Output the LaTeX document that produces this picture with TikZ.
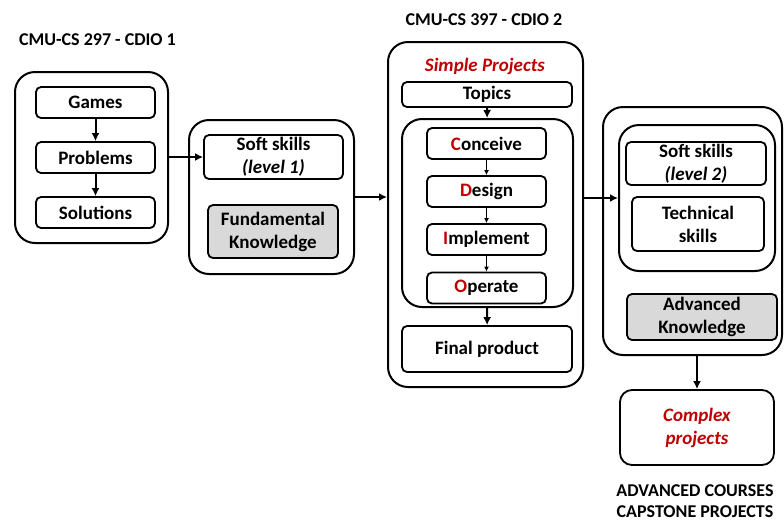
\documentclass[tikz,border=0pt]{standalone}
\usepackage{fontspec}
\setmainfont{Carlito}
\usetikzlibrary{arrows.meta,calc,positioning}
\usepackage{xcolor}
\definecolor{cdiored}{HTML}{C00000}
\definecolor{knowgrey}{HTML}{D9D9D9}

\begin{document}
\begin{tikzpicture}[
    x=1pt, y=-1pt,
    font=\fontsize{19}{23}\selectfont\bfseries,
    group/.style={draw=black, line width=2pt, rounded corners=20pt, inner sep=0pt},
    item/.style={draw=black, line width=1.8pt, rounded corners=5pt, align=center, inner sep=0pt},
    knowledge/.style={item, fill=knowgrey},
    heading/.style={align=center, inner sep=0pt, font=\fontsize{18}{21}\selectfont\bfseries},
    flow/.style={-{Latex[length=8pt,width=8pt]}, line width=2pt},
    cdioflow/.style={-{Latex[length=5pt,width=5pt]}, line width=1.1pt}
  ]
    \useasboundingbox (0,0) rectangle (784,523);

    % CDIO 1
    \node[heading] (titleone) at (97.5,40) {CMU-CS 297 - CDIO 1};
    \node[group, minimum width=153pt, minimum height=171pt] (cdioone) at (91.5,157.5) {};
    \node[item, minimum width=119pt, minimum height=31pt] (games) at (95.5,102.5) {Games};
    \node[item, minimum width=119pt, minimum height=31pt] (problems) at (95.5,157.5) {Problems};
    \node[item, minimum width=119pt, minimum height=31pt] (solutions) at (95.5,212.5) {Solutions};

    \node[group, minimum width=165pt, minimum height=154pt] (basics) at (271.5,197) {};
    \node[item, minimum width=139pt, minimum height=44pt] (softone) at (273.5,157) {Soft skills\\\textit{(level 1)}};
    \node[knowledge, minimum width=130pt, minimum height=53pt] (fundamental) at (273,231.5) {Fundamental\\Knowledge};

    % CDIO 2
    \node[heading] (titletwo) at (484,20) {CMU-CS 397 - CDIO 2};
    \node[group, minimum width=195pt, minimum height=345pt] (cdiotwo) at (485.5,214.5) {};
    \node[text=cdiored] (simple) at (485,66) {\textit{Simple Projects}};
    \node[item, minimum width=170pt, minimum height=25pt] (topics) at (487,94.5) {Topics};
    \node[group, minimum width=171pt, minimum height=188pt] (cycle) at (487.5,213) {};
    \node[item, minimum width=119pt, minimum height=31pt] (conceive) at (486.5,143.5) {\textcolor{cdiored}{C}onceive};
    \node[item, minimum width=119pt, minimum height=31pt] (design) at (486.5,191.5) {\textcolor{cdiored}{D}esign};
    \node[item, minimum width=119pt, minimum height=31pt] (implement) at (486.5,239.5) {\textcolor{cdiored}{I}mplement};
    \node[item, minimum width=119pt, minimum height=31pt] (operate) at (486.5,288) {\textcolor{cdiored}{O}perate};
    \node[item, minimum width=170pt, minimum height=46pt] (final) at (487,349) {Final product};

    % advanced
    \node[group, minimum width=179pt, minimum height=248pt] (advanced) at (692.5,231) {};
    \node[group, minimum width=156pt, minimum height=146pt] (skills) at (697,198) {};
    \node[item, minimum width=140pt, minimum height=43pt] (softtwo) at (696,163.5) {Soft skills\\\textit{(level 2)}};
    \node[item, minimum width=132pt, minimum height=54pt] (technical) at (698,224) {Technical\\skills};
    \node[knowledge, minimum width=150pt, minimum height=46pt] (advknow) at (702,317) {Advanced\\Knowledge};
    \node[item, rounded corners=12pt, minimum width=154pt, minimum height=75pt, text=cdiored] (complex) at (697,427.5) {\textit{Complex}\\\textit{projects}};
    \node[heading, align=center] (courses) at (695,501.5) {ADVANCED COURSES\\CAPSTONE PROJECTS};

    \draw[flow] (games) -- (problems);
    \draw[flow] (problems) -- (solutions);
    \draw[flow] (cdioone.east |- softone.west) -- (softone.west);
    \draw[flow] (basics.east) -- (cdiotwo.west |- basics.east);
    \draw[flow] (topics) -- (cycle);
    \draw[cdioflow] (conceive) -- (design);
    \draw[cdioflow] (design) -- (implement);
    \draw[cdioflow] (implement) -- (operate);
    \draw[flow] (cycle) -- (final);
    \draw[flow] (skills.west -| cdiotwo.east) -- (skills.west);
    \draw[flow] (complex.north |- advanced.south) -- (complex.north);
  \end{tikzpicture}
\end{document}
